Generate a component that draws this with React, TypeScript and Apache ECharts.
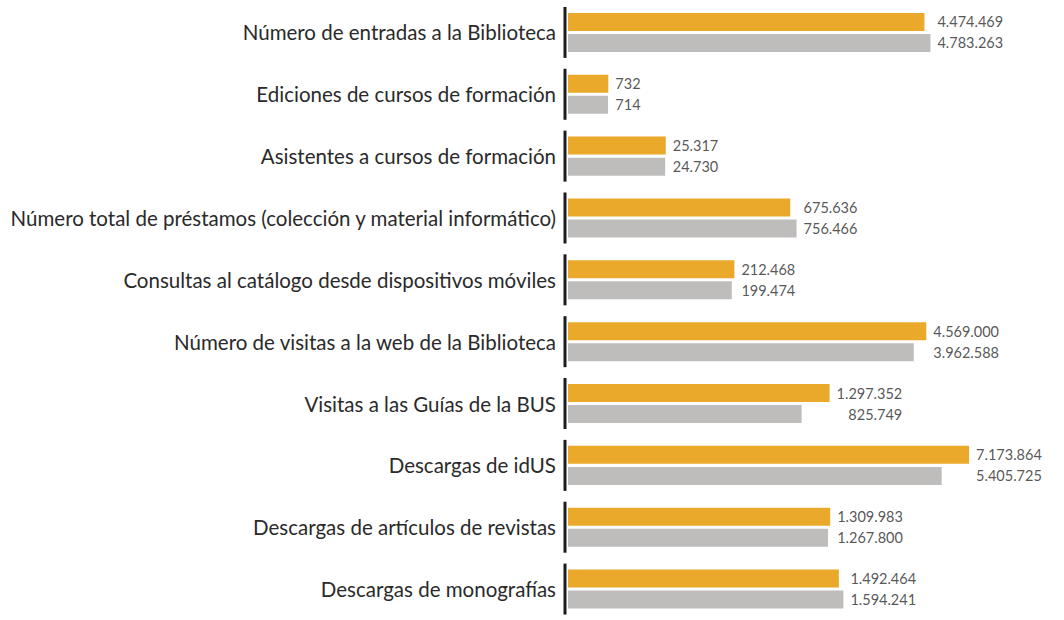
import React, { useEffect, useRef } from "react";
import * as echarts from "echarts";

const categories = [
  "Número de entradas a la Biblioteca",
  "Ediciones de cursos de formación",
  "Asistentes a cursos de formación",
  "Número total de préstamos (colección y material informático)",
  "Consultas al catálogo desde dispositivos móviles",
  "Número de visitas a la web de la Biblioteca",
  "Visitas a las Guías de la BUS",
  "Descargas de idUS",
  "Descargas de artículos de revistas",
  "Descargas de monografías",
];

const seriesA = [4474469, 732, 25317, 675636, 212468, 4569000, 1297352, 7173864, 1309983, 1492464];
const seriesB = [4783263, 714, 24730, 756466, 199474, 3962588, 825749, 5405725, 1267800, 1594241];

const ORANGE = "#EAA92A";
const GRAY = "#BFBCBC";
const TEXT = "#2a2a2a";
const FONT = "Lato, 'Noto Sans', sans-serif";

// The infographic uses a compressive (fourth-root-like) bar scale
const scaleValue = (v: number) => Math.pow(v, 0.25);
const fmt = (v: number) => String(v).replace(/\B(?=(\d{3})+(?!\d))/g, ".");

export default function App() {
  const ref = useRef<HTMLDivElement>(null);

  useEffect(() => {
    if (!ref.current) return;
    const chart = echarts.init(ref.current, undefined, { renderer: "svg" });

    const option: any = {
      animation: false,
      backgroundColor: "#ffffff",
      grid: { left: 568, right: 31, top: 1.5, height: 630, containLabel: false },
      xAxis: { type: "value", min: 0, max: 60, show: false },
      yAxis: {
        type: "category",
        inverse: true,
        data: categories,
        axisLine: { show: false },
        axisTick: { show: false },
        splitLine: { show: false },
        axisLabel: { fontSize: 20.5, color: TEXT, fontFamily: FONT, margin: 12 },
      },
      series: [
        {
          type: "bar",
          name: "A",
          data: seriesA.map((v) => ({ value: scaleValue(v), raw: v })),
          barWidth: 18,
          barGap: "17%",
          itemStyle: { color: ORANGE },
          silent: true,
        },
        {
          type: "bar",
          name: "B",
          data: seriesB.map((v) => ({ value: scaleValue(v), raw: v })),
          barWidth: 18,
          itemStyle: { color: GRAY },
          silent: true,
        },
        {
          type: "scatter",
          symbolSize: 0,
          silent: true,
          data: categories.map((_, i) => ({
            value: [Math.max(scaleValue(seriesA[i]), scaleValue(seriesB[i])), i],
            a: seriesA[i],
            b: seriesB[i],
          })),
          label: {
            show: true,
            position: "right",
            distance: 7,
            formatter: (p: any) => `{a|${fmt(p.data.a)}}\n{b|${fmt(p.data.b)}}`,
            rich: {
              a: { align: "right", fontSize: 14.5, lineHeight: 21, color: TEXT, fontFamily: FONT },
              b: { align: "right", fontSize: 14.5, lineHeight: 21, color: TEXT, fontFamily: FONT },
            },
          },
        },
        {
          type: "custom",
          silent: true,
          clip: false,
          encode: { x: 0, y: 1 },
          data: categories.map((_, i) => [0, i]),
          renderItem: (_params: any, api: any) => {
            const p = api.coord([0, api.value(1)]);
            return {
              type: "line",
              shape: { x1: p[0] - 3, y1: p[1] - 25.5, x2: p[0] - 3, y2: p[1] + 25.5 },
              style: { stroke: "#1c1c1c", lineWidth: 3 },
            };
          },
        },
      ],
    };

    chart.setOption(option);
    return () => chart.dispose();
  }, []);

  return (
    <div
      ref={ref}
      style={{ position: "fixed", left: 0, top: 0, width: 1064, height: 620, background: "#fff" }}
    />
  );
}
